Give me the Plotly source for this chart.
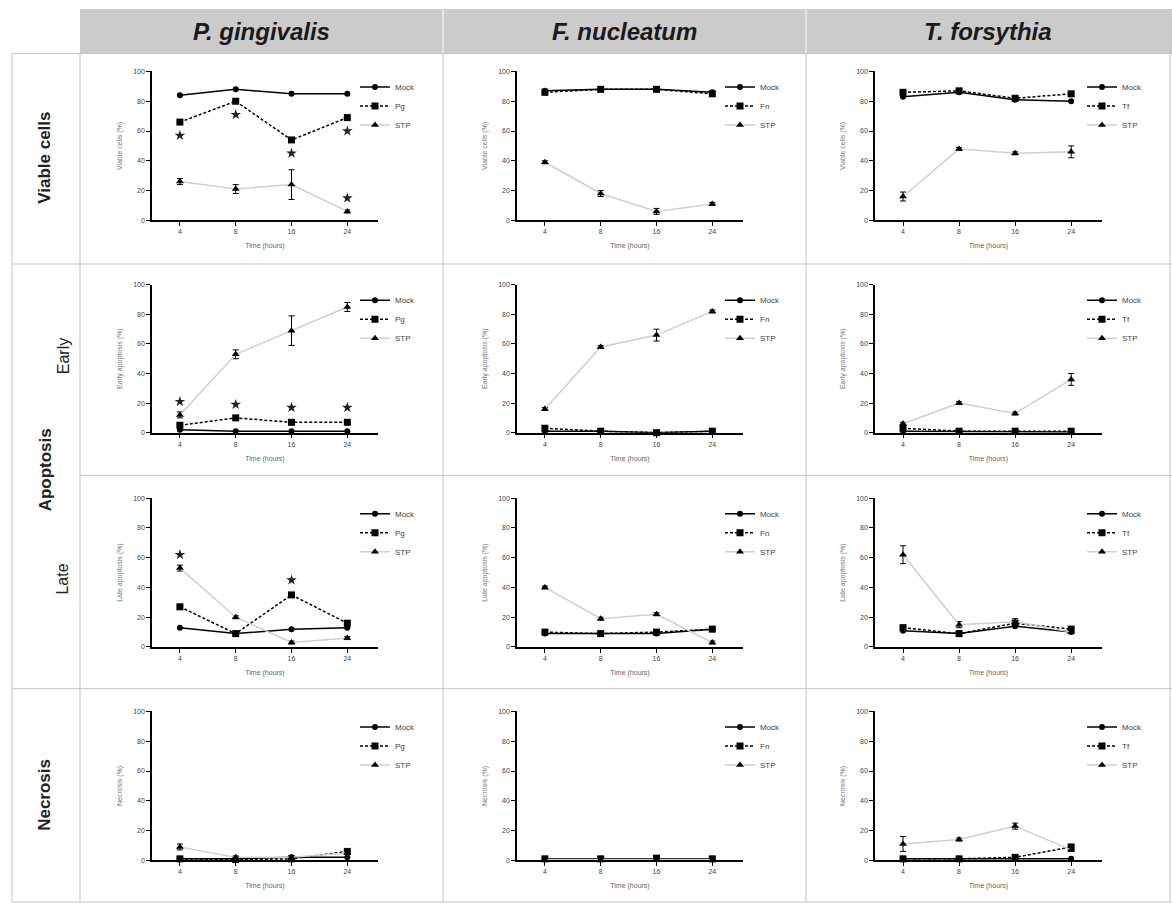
import plotly.graph_objects as go

# ---------------- data ----------------
times = ["4", "8", "16", "24"]
species = ["P. gingivalis", "F. nucleatum", "T. forsythia"]
species_abbrev = ["Pg", "Fn", "Tf"]
row_titles = ["Viable cells (%)", "Early apoptosis (%)", "Late apoptosis (%)", "Necrosis (%)"]
x_title = "Time (hours)"
y_ticks = [0, 20, 40, 60, 80, 100]

# each list: [P. gingivalis panel, F. nucleatum panel, T. forsythia panel]
viable_mock = [[84, 88, 85, 85], [87, 88, 88, 86], [83, 86, 81, 80]]
viable_bact = [[66, 80, 54, 69], [86, 88, 88, 85], [86, 87, 82, 85]]
viable_stp = [[26, 21, 24, 6], [39, 18, 6, 11], [16, 48, 45, 46]]
viable_stp_err = [[2, 3, 10, 1], [1, 2, 2, 1], [3, 1, 1, 4]]

early_mock = [[2, 1, 1, 1], [1, 1, 0, 1], [1, 1, 1, 0.5]]
early_bact = [[5, 10, 7, 7], [3, 1, 0, 1], [3, 1, 1, 1]]
early_stp = [[12, 53, 69, 85], [16, 58, 66, 82], [6, 20, 13, 36]]
early_stp_err = [[2, 3, 10, 3], [1, 1, 4, 1], [1, 1, 1, 4]]

late_mock = [[13, 9, 12, 13], [9, 9, 9, 12], [11, 9, 14, 10]]
late_bact = [[27, 9, 35, 16], [10, 9, 10, 12], [13, 9, 16, 12]]
late_stp = [[53, 20, 3, 6], [40, 19, 22, 3], [62, 15, 17, 10]]
late_stp_err = [[2, 1, 1, 1], [1, 1, 1, 1], [6, 2, 2, 1]]

necro_mock = [[1, 1, 2, 2], [1, 1, 1, 1], [1, 1, 1, 1]]
necro_bact = [[1, 0.5, 1, 6], [1, 1, 1.5, 1], [1, 1, 2, 9]]
necro_stp = [[9, 2, 2, 5], [0.5, 0.5, 1, 0.5], [11, 14, 23, 7]]
necro_stp_err = [[2, 1, 1, 1], [0.5, 0.5, 0.5, 0.5], [5, 1, 2, 1]]

# significance stars (P. gingivalis column only)
stars_viable_bact = [57, 71, 45, 60]
stars_viable_stp = [None, None, None, 15]
stars_early = [21, 19, 17, 17]
stars_late = [62, None, 45, None]

mock_rows = [viable_mock, early_mock, late_mock, necro_mock]
bact_rows = [viable_bact, early_bact, late_bact, necro_bact]
stp_rows = [viable_stp, early_stp, late_stp, necro_stp]
err_rows = [viable_stp_err, early_stp_err, late_stp_err, necro_stp_err]
stars_by_row = {0: [stars_viable_bact, stars_viable_stp], 1: [stars_early], 2: [stars_late]}

# ---------------- layout geometry (pixels) ----------------
W, H = 1172, 907
col_x = [(152, 378), (517, 743), (875, 1102)]
row_y = [(68, 218), (283, 432), (498, 648), (713, 863)]
legend_x = [355, 720, 1082]


def px(x):
    return x / W


def py(y):
    return 1 - y / H


fig = go.Figure()
layout = dict(
    width=W, height=H, margin=dict(l=0, r=0, t=0, b=0),
    paper_bgcolor="white", plot_bgcolor="white",
    font=dict(family="Liberation Sans, Arial, sans-serif", color="#333"),
    shapes=[], annotations=[],
)

for r in range(4):
    for c in range(3):
        k = r * 3 + c + 1
        sfx = "" if k == 1 else str(k)
        xa, ya, lg = "x" + sfx, "y" + sfx, "legend" + sfx
        x0, x1 = col_x[c]
        y0, y1 = row_y[r]
        layout["xaxis" + sfx] = dict(
            domain=[px(x0), px(x1)], anchor=ya, type="category",
            range=[-0.5, 3.55], showline=True, linecolor="black", linewidth=1.5,
            ticks="outside", ticklen=4, tickwidth=1, tickcolor="black",
            showgrid=False, zeroline=False,
            tickfont=dict(size=7, color="#444"),
            title=dict(text=x_title, font=dict(size=7, color="#666"), standoff=9),
        )
        layout["yaxis" + sfx] = dict(
            domain=[py(y1), py(y0)], anchor=xa, range=[0, 100],
            tickvals=y_ticks, showline=True, linecolor="black", linewidth=1.5,
            ticks="outside", ticklen=4, tickwidth=1, tickcolor="black",
            showgrid=False, zeroline=False,
            tickfont=dict(size=7, color="#444"),
            title=dict(text=row_titles[r], font=dict(size=7, color="#777"), standoff=10),
        )
        layout[lg] = dict(
            x=px(legend_x[c]), y=py(y0 + 1), xanchor="left", yanchor="top",
            bgcolor="rgba(0,0,0,0)", font=dict(size=8, color="#444"),
            itemwidth=30, tracegroupgap=0,
        )

        fig.add_trace(go.Scatter(
            x=times, y=mock_rows[r][c], name="Mock", mode="lines+markers",
            line=dict(color="black", width=1.5),
            marker=dict(symbol="circle", size=6, color="black"),
            xaxis=xa, yaxis=ya, legend=lg, cliponaxis=False,
        ))
        fig.add_trace(go.Scatter(
            x=times, y=bact_rows[r][c], name=species_abbrev[c], mode="lines+markers",
            line=dict(color="black", width=1.5, dash="3px,2px"),
            marker=dict(symbol="square", size=7, color="black"),
            xaxis=xa, yaxis=ya, legend=lg, cliponaxis=False,
        ))
        fig.add_trace(go.Scatter(
            x=times, y=stp_rows[r][c], name="STP", mode="lines+markers",
            line=dict(color="#cfcfcf", width=1.5),
            marker=dict(symbol="triangle-up", size=7, color="black"),
            error_y=dict(type="data", array=err_rows[r][c], color="black",
                         thickness=1, width=3),
            xaxis=xa, yaxis=ya, legend=lg, cliponaxis=False,
        ))
        if c == 0 and r in stars_by_row:
            for st in stars_by_row[r]:
                fig.add_trace(go.Scatter(
                    x=times, y=st, mode="markers", showlegend=False,
                    marker=dict(symbol="star", size=8, color="#222"),
                    xaxis=xa, yaxis=ya, cliponaxis=False, hoverinfo="skip",
                ))

# ---------------- table frame ----------------
shapes = layout["shapes"]
shapes.append(dict(type="rect", xref="paper", yref="paper",
                   x0=px(80), x1=px(1172), y0=py(50), y1=py(5),
                   fillcolor="#cbcbcb", line=dict(width=0), layer="below"))
for xv in [443, 806]:
    shapes.append(dict(type="line", xref="paper", yref="paper",
                       x0=px(xv), x1=px(xv), y0=py(50), y1=py(5),
                       line=dict(color="#e4e4e4", width=2)))
grid = dict(color="#c4c4c4", width=1)
for (ya_, xs, xe) in [(50, 12, 1172), (262, 12, 1172), (475, 80, 1172),
                      (690, 12, 1172), (905, 12, 1172)]:
    shapes.append(dict(type="line", xref="paper", yref="paper",
                       x0=px(xs), x1=px(xe), y0=py(ya_), y1=py(ya_), line=grid))
for (xv, ys, ye) in [(12, 50, 905), (80, 50, 905), (443, 50, 905),
                     (806, 50, 905), (1170, 5, 905)]:
    shapes.append(dict(type="line", xref="paper", yref="paper",
                       x0=px(xv), x1=px(xv), y0=py(ys), y1=py(ye), line=grid))

ann = layout["annotations"]
for c, name in enumerate(species):
    cx = [(80 + 443) / 2, (443 + 806) / 2, (806 + 1170) / 2][c]
    ann.append(dict(text="<b><i>%s</i></b>" % name, xref="paper", yref="paper",
                    x=px(cx), y=py(28), xanchor="center", yanchor="middle",
                    showarrow=False,
                    font=dict(size=24, color="#1a1a1a",
                              family="Liberation Sans, Arial, sans-serif")))

row_labels = [("<b>Viable cells</b>", 45, 155, 17), ("<b>Apoptosis</b>", 45, 470, 17),
              ("Early", 63, 355, 16), ("Late", 63, 580, 16), ("<b>Necrosis</b>", 45, 797, 17)]
for text, x_, y_, fs in row_labels:
    ann.append(dict(text=text, xref="paper", yref="paper", x=px(x_), y=py(y_),
                    xanchor="center", yanchor="middle",
                    showarrow=False, textangle=-90,
                    font=dict(size=fs, color="#222",
                              family="Liberation Sans, Arial, sans-serif")))

fig.update_layout(**layout)
fig.write_html("out.html")
